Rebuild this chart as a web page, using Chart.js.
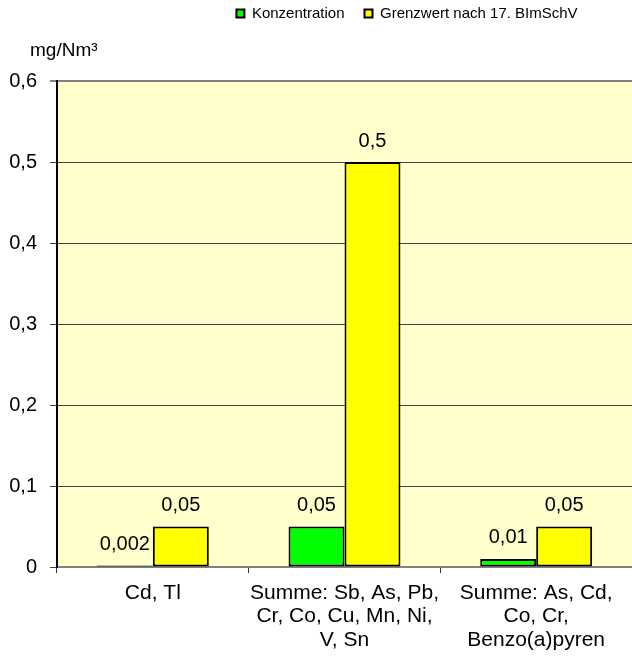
<!DOCTYPE html>
<html>
<head>
<meta charset="utf-8">
<script src="https://cdn.jsdelivr.net/npm/chart.js@4/dist/chart.umd.min.js"></script>
<style>
html,body{margin:0;padding:0;background:#fff;}
#wrap{width:632px;height:656px;}
</style>
</head>
<body>
<div id="wrap"><canvas id="c" width="632" height="656"></canvas></div>
<script>
const categories = [
  ["Cd, Tl"],
  ["Summe: Sb, As, Pb,", "Cr, Co, Cu, Mn, Ni,", "V, Sn"],
  ["Summe: As, Cd,", "Co, Cr,", "Benzo(a)pyren"]
];
const konzentration = [0.002, 0.05, 0.01];
const grenzwert = [0.05, 0.5, 0.05];
const seriesNames = ["Konzentration", "Grenzwert nach 17. BImSchV"];
const yAxisTitle = "mg/Nm³";
const yMax = 0.6;
const yStep = 0.1;

const FONT = "'Liberation Sans', Arial, sans-serif";
Chart.defaults.font.family = FONT;
Chart.defaults.color = '#000';

const fmt = v => (Math.round(v * 1000) / 1000).toString().replace('.', ',');

const plotBg = {
  id: 'plotBg',
  beforeDraw(chart) {
    const a = chart.chartArea, ctx = chart.ctx;
    ctx.save();
    ctx.fillStyle = '#FFFFCC';
    ctx.fillRect(a.left, a.top, a.right - a.left, a.bottom - a.top);
    ctx.restore();
  }
};
const legendShift = {
  id: 'legendShift',
  afterLayout(chart) {
    const l = chart.legend;
    if (l) { l.left += 91; l.right += 91; l.top -= 50; l.bottom -= 50; }
  }
};
const extras = {
  id: 'extras',
  afterDatasetsDraw(chart) {
    const ctx = chart.ctx;
    ctx.save();
    ctx.font = "20px " + FONT;
    ctx.fillStyle = '#000';
    ctx.textAlign = 'center';
    ctx.textBaseline = 'middle';
    chart.data.datasets.forEach((ds, i) => {
      chart.getDatasetMeta(i).data.forEach((el, j) => {
        ctx.fillText(fmt(ds.data[j]), el.x, el.y - 21);
      });
    });
    ctx.font = "19px " + FONT;
    ctx.textAlign = 'left';
    ctx.fillText(yAxisTitle, 30, chart.chartArea.top - 30);
    ctx.restore();
  }
};

new Chart(document.getElementById('c'), {
  type: 'bar',
  data: {
    labels: categories,
    datasets: [
      { label: seriesNames[0], data: konzentration, backgroundColor: '#00FF00', borderColor: '#000', borderWidth: 2, borderSkipped: false },
      { label: seriesNames[1], data: grenzwert, backgroundColor: '#FFFF00', borderColor: '#000', borderWidth: 2, borderSkipped: false }
    ]
  },
  options: {
    responsive: false,
    animation: false,
    devicePixelRatio: 1,
    layout: { padding: { top: 36, right: 0, left: 0, bottom: 0 } },
    datasets: { bar: { categoryPercentage: 0.584, barPercentage: 1.0 } },
    plugins: {
      legend: {
        position: 'top',
        align: 'center',
        labels: {
          boxWidth: 8, boxHeight: 8, padding: 20,
          font: { size: 15, family: FONT },
          color: '#000'
        }
      },
      tooltip: { enabled: false }
    },
    scales: {
      x: {
        grid: { drawOnChartArea: false, drawTicks: true, tickLength: 6, offset: true, color: '#333' },
        border: { color: '#808080', width: 2 },
        ticks: { font: { size: 21, family: FONT, lineHeight: 1.1 }, color: '#000', padding: 9, maxRotation: 0, autoSkip: false },
        afterFit(s) { s.height = 89; }
      },
      y: {
        min: 0, max: yMax,
        ticks: { stepSize: yStep, font: { size: 20, family: FONT }, color: '#000', padding: 13, callback: v => fmt(v) },
        grid: {
          color: ctx => (ctx.tick && Math.abs(ctx.tick.value - yMax) < 1e-9) ? '#808080' : '#444',
          lineWidth: ctx => (ctx.tick && Math.abs(ctx.tick.value - yMax) < 1e-9) ? 2 : 1,
          tickLength: 7
        },
        border: { color: '#000', width: 2 },
        afterFit(s) { s.width = 57; }
      }
    }
  },
  plugins: [plotBg, legendShift, extras]
});
</script>
</body>
</html>
